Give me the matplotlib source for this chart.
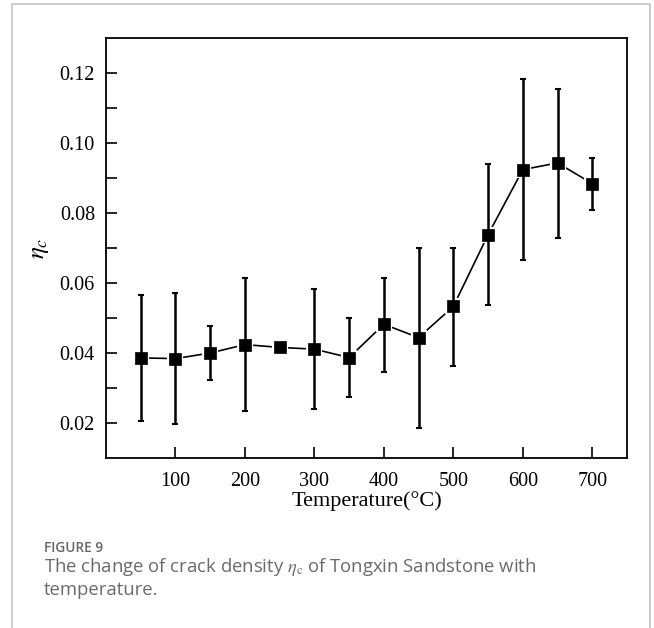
import matplotlib
matplotlib.use("Agg")
import matplotlib.pyplot as plt
from matplotlib.lines import Line2D
import numpy as np

temperature = [50, 100, 150, 200, 250, 300, 350, 400, 450, 500, 550, 600, 650, 700]
eta_c = [0.0386, 0.0384, 0.0400, 0.0424, 0.0416, 0.0411, 0.0387, 0.0482, 0.0444,
         0.0533, 0.0738, 0.0924, 0.0943, 0.0884]
err_top = [0.0565, 0.0571, 0.0477, 0.0614, 0.0420, 0.0583, 0.0501, 0.0614, 0.0700,
           0.0700, 0.0939, 0.1183, 0.1154, 0.0958]
err_bottom = [0.0205, 0.0197, 0.0324, 0.0233, 0.0412, 0.0241, 0.0274, 0.0347, 0.0187,
              0.0364, 0.0537, 0.0667, 0.0730, 0.0809]
x_ticks = [100, 200, 300, 400, 500, 600, 700]
y_ticks = [0.02, 0.04, 0.06, 0.08, 0.10, 0.12]

plt.rcParams['mathtext.fontset'] = 'stix'
serif = 'Liberation Serif'

W, H = 654, 628
fig = plt.figure(figsize=(W / 100, H / 100), dpi=100)
ax = fig.add_axes([106 / W, 1 - 458 / H, (627 - 106) / W, (458 - 38) / H])

x = np.array(temperature)
y = np.array(eta_c)
lo = y - np.array(err_bottom)
hi = np.array(err_top) - y

# connecting line with gaps around markers
ax.plot(x, y, color='black', lw=1.2, marker='s', ms=8.6, mfc='black',
        mec='white', mew=3.0, zorder=2)
ax.errorbar(x, y, yerr=[lo, hi], fmt='none', ecolor='black', elinewidth=1.8,
            capsize=2.2, capthick=1.5, zorder=3)
ax.plot(x, y, linestyle='none', marker='s', ms=8.6, mfc='black', mec='black',
        mew=0.5, zorder=4)

ax.set_xlim(0, 750)
ax.set_ylim(0.01, 0.13)
ax.set_xticks(x_ticks)
ax.set_xticklabels([str(t) for t in x_ticks])
ax.set_yticks(y_ticks)
ax.set_yticklabels([f"{t:.2f}" for t in y_ticks])
ax.set_yticks([0.03, 0.05, 0.07, 0.09, 0.11], minor=True)
ax.tick_params(axis='both', which='both', direction='in', length=8, width=1.2,
               top=False, right=False)
ax.tick_params(axis='both', which='major', labelsize=14.5)
ax.tick_params(axis='x', which='major', pad=10)
ax.tick_params(axis='y', which='major', pad=8)
for lab in ax.get_xticklabels() + ax.get_yticklabels():
    lab.set_fontfamily(serif)
for s in ax.spines.values():
    s.set_linewidth(1.3)

ax.set_xlabel('Temperature(°C)', fontsize=16, family=serif, labelpad=0)
ax.set_ylabel(r'$\eta_c$', fontsize=18, labelpad=6)

# gray frame
fig.add_artist(Line2D([12 / W, 12 / W, 650 / W, 650 / W],
                      [0, 1 - 4 / H, 1 - 4 / H, 0], transform=fig.transFigure,
                      color='#c8c8c8', lw=1.3))

fig.text(44 / W, 1 - 548 / H, 'FIGURE 9', fontsize=9.8, family='Open Sans',
         weight='semibold', color='#666666', va='center', ha='left')
fig.text(44 / W, 1 - 567 / H,
         r'The change of crack density $\eta_\mathrm{c}$ of Tongxin Sandstone with',
         fontsize=13.3, family='Open Sans', color='#6a6a6a', va='center', ha='left')
fig.text(44 / W, 1 - 590 / H, 'temperature.', fontsize=13.3, family='Open Sans',
         color='#6a6a6a', va='center', ha='left')

fig.savefig('out.png', dpi=100)
